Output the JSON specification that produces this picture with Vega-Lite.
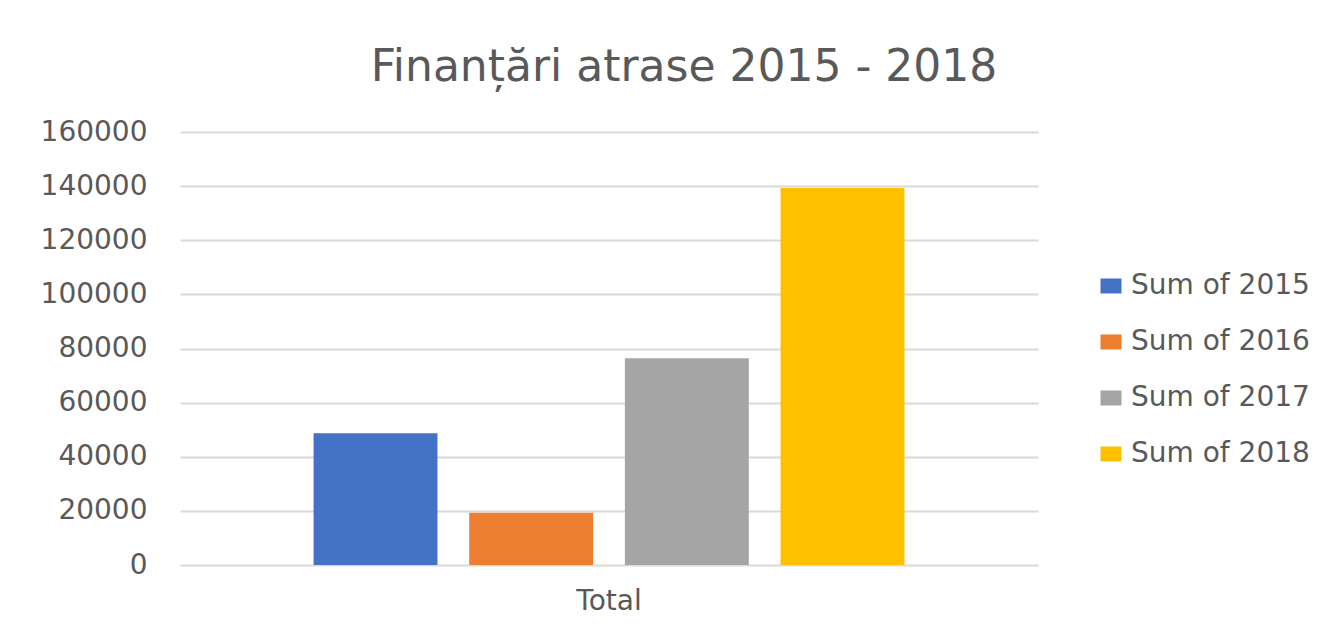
{
  "$schema": "https://vega.github.io/schema/vega-lite/v6.json",
  "autosize": {"type": "none"},
  "padding": {"left": 180, "top": 132, "right": 305, "bottom": 69},
  "width": 858,
  "height": 433,
  "background": "#ffffff",
  "title": {
    "text": "Finanțări atrase 2015 - 2018",
    "font": "DejaVu Sans",
    "fontSize": 44,
    "fontWeight": "normal",
    "color": "#595959",
    "anchor": "middle",
    "frame": "group",
    "dx": 75,
    "offset": 28
  },
  "data": {
    "values": [
      {"category": "Total", "series": "Sum of 2015", "value": 48700},
      {"category": "Total", "series": "Sum of 2016", "value": 19300},
      {"category": "Total", "series": "Sum of 2017", "value": 76400},
      {"category": "Total", "series": "Sum of 2018", "value": 139300}
    ]
  },
  "mark": {"type": "bar"},
  "encoding": {
    "x": {
      "field": "category",
      "type": "nominal",
      "title": null,
      "scale": {"paddingInner": 0, "paddingOuter": 0.189},
      "axis": {
        "labelAngle": 0,
        "ticks": false,
        "tickSize": 0,
        "domain": false,
        "grid": false,
        "labelFont": "DejaVu Sans",
        "labelFontSize": 28,
        "labelColor": "#595959",
        "labelPadding": 22
      }
    },
    "xOffset": {
      "field": "series",
      "type": "nominal",
      "scale": {"paddingInner": 0.204, "paddingOuter": 0.102}
    },
    "y": {
      "field": "value",
      "type": "quantitative",
      "title": null,
      "scale": {"domain": [0, 160000], "nice": false},
      "axis": {
        "values": [0, 20000, 40000, 60000, 80000, 100000, 120000, 140000, 160000],
        "format": "d",
        "ticks": false,
        "tickSize": 0,
        "domain": false,
        "grid": true,
        "gridColor": "#d9d9d9",
        "gridWidth": 2,
        "labelFont": "DejaVu Sans",
        "labelFontSize": 28,
        "labelColor": "#595959",
        "labelPadding": 33
      }
    },
    "color": {
      "field": "series",
      "type": "nominal",
      "scale": {
        "domain": ["Sum of 2015", "Sum of 2016", "Sum of 2017", "Sum of 2018"],
        "range": ["#4472C4", "#ED7D31", "#A5A5A5", "#FFC000"]
      },
      "legend": {
        "title": null,
        "orient": "none",
        "legendX": 917,
        "legendY": 140,
        "symbolType": "M-1.4,-1H1.4V1H-1.4Z",
        "symbolSize": 225,
        "symbolStrokeWidth": 0,
        "labelFont": "DejaVu Sans",
        "labelFontSize": 28,
        "labelColor": "#595959",
        "labelOffset": 6,
        "labelLimit": 0,
        "rowPadding": 28
      }
    }
  },
  "config": {
    "view": {"stroke": null}
  }
}
